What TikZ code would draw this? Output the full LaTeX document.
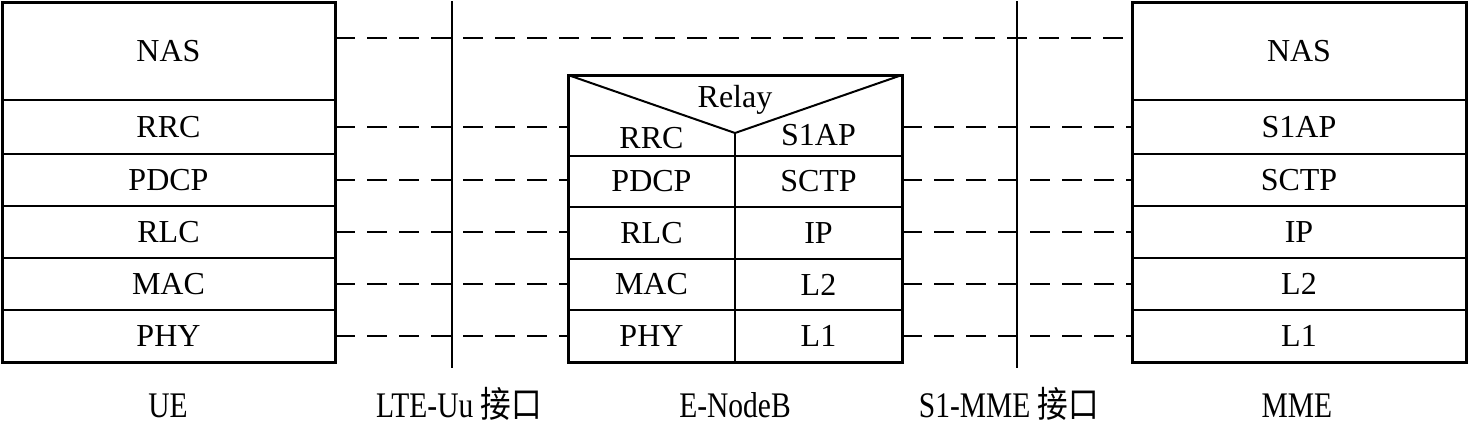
\documentclass[tikz,border=0pt]{standalone}
\usepackage{fontspec}
\setmainfont{Liberation Serif}
\newfontfamily\labfont[FakeStretch=0.82]{Liberation Serif}
\newfontfamily\cjkfont[FakeStretch=0.85]{Noto Sans CJK SC}
\usetikzlibrary{calc}
\begin{document}
\begin{tikzpicture}[x=0.5pt,y=-0.5pt,
  cell/.style={draw, line width=1pt, inner sep=0pt, outer sep=0pt, font=\fontsize{16}{18}\selectfont},
  blankcell/.style={inner sep=0pt, outer sep=0pt},
  celltext/.style={inner sep=0pt, font=\fontsize{16}{18}\selectfont},
  frame/.style={draw, line width=1.5pt},
  thinline/.style={line width=1pt},
  layerlink/.style={line width=1pt, dash pattern=on 10pt off 6pt},
  iface/.style={line width=1pt},
  caption/.style={inner sep=0pt, anchor=base, text height=0.75em, text depth=0pt,
                  font=\labfont\fontsize{18}{20}\selectfont}]
\useasboundingbox (0,0) rectangle (1468,423);

% ---------- UE ----------
\node[cell, minimum width=166.5pt, minimum height=49pt] (ue-nas)  at (168.5,51)  {NAS};
\node[cell, minimum width=166.5pt, minimum height=27pt] (ue-rrc)  at (168.5,127) {RRC};
\node[cell, minimum width=166.5pt, minimum height=26pt] (ue-pdcp) at (168.5,180) {PDCP};
\node[cell, minimum width=166.5pt, minimum height=26pt] (ue-rlc)  at (168.5,232) {RLC};
\node[cell, minimum width=166.5pt, minimum height=26pt] (ue-mac)  at (168.5,284) {MAC};
\node[cell, minimum width=166.5pt, minimum height=26pt] (ue-phy)  at (168.5,336) {PHY};
\draw[frame] (ue-nas.north west) rectangle (ue-phy.south east);

% ---------- E-NodeB ----------
\node[blankcell, minimum width=83.5pt, minimum height=40.5pt] (enb-rrc)  at (651.5,115.5) {};
\node[blankcell, minimum width=83.5pt, minimum height=40.5pt] (enb-s1ap) at (818.5,115.5) {};
\node[celltext] (enb-rrc-t)  at (651.5,138) {RRC};
\node[celltext] (enb-s1ap-t) at (818.5,135) {S1AP};
\node[celltext] (relay) at (735,100) {Relay};
\coordinate (vtip) at (735,133);

\node[cell, minimum width=83.5pt, minimum height=25.5pt] (enb-pdcp) at (651.5,181.5) {PDCP};
\node[cell, minimum width=83.5pt, minimum height=26pt]   (enb-rlc)  at (651.5,233)   {RLC};
\node[cell, minimum width=83.5pt, minimum height=25.5pt] (enb-mac)  at (651.5,284.5) {MAC};
\node[cell, minimum width=83.5pt, minimum height=26pt]   (enb-phy)  at (651.5,336)   {PHY};
\node[cell, minimum width=83.5pt, minimum height=25.5pt] (enb-sctp) at (818.5,181.5) {SCTP};
\node[cell, minimum width=83.5pt, minimum height=26pt]   (enb-ip)   at (818.5,233)   {IP};
\node[cell, minimum width=83.5pt, minimum height=25.5pt] (enb-l2)   at (818.5,284.5) {L2};
\node[cell, minimum width=83.5pt, minimum height=26pt]   (enb-l1)   at (818.5,336)   {L1};
\draw[thinline] (enb-rrc.north west) -- (vtip) -- (enb-s1ap.north east);
\draw[thinline] (vtip) -- (vtip |- enb-pdcp.north);
\draw[frame] (enb-rrc.north west) rectangle (enb-l1.south east);

% ---------- MME ----------
\node[cell, minimum width=167pt, minimum height=49pt] (mme-nas)  at (1299,51)  {NAS};
\node[cell, minimum width=167pt, minimum height=27pt] (mme-s1ap) at (1299,127) {S1AP};
\node[cell, minimum width=167pt, minimum height=26pt] (mme-sctp) at (1299,180) {SCTP};
\node[cell, minimum width=167pt, minimum height=26pt] (mme-ip)   at (1299,232) {IP};
\node[cell, minimum width=167pt, minimum height=26pt] (mme-l2)   at (1299,284) {L2};
\node[cell, minimum width=167pt, minimum height=26pt] (mme-l1)   at (1299,336) {L1};
\draw[frame] (mme-nas.north west) rectangle (mme-l1.south east);

% ---------- interfaces ----------
\coordinate (uu-top) at (452,1);
\coordinate (uu-bot) at (452,368);
\coordinate (s1-top) at (1017,1);
\coordinate (s1-bot) at (1017,368);
\draw[iface] (uu-top) -- (uu-bot);
\draw[iface] (s1-top) -- (s1-bot);

% ---------- peer links ----------
\draw[layerlink] ([yshift=6.5pt]ue-nas.east) -- ([yshift=6.5pt]mme-nas.west);
\draw[layerlink] (ue-rrc.east)  -- (ue-rrc.east -| enb-rrc.west);
\draw[layerlink] (ue-pdcp.east) -- (ue-pdcp.east -| enb-pdcp.west);
\draw[layerlink] (ue-rlc.east)  -- (ue-rlc.east -| enb-rlc.west);
\draw[layerlink] (ue-mac.east)  -- (ue-mac.east -| enb-mac.west);
\draw[layerlink] (ue-phy.east)  -- (ue-phy.east -| enb-phy.west);
\draw[layerlink] (mme-s1ap.west -| enb-s1ap.east) -- (mme-s1ap.west);
\draw[layerlink] (mme-sctp.west -| enb-sctp.east) -- (mme-sctp.west);
\draw[layerlink] (mme-ip.west -| enb-ip.east)     -- (mme-ip.west);
\draw[layerlink] (mme-l2.west -| enb-l2.east)     -- (mme-l2.west);
\draw[layerlink] (mme-l1.west -| enb-l1.east)     -- (mme-l1.west);

% ---------- captions ----------
\node[caption] (ue-cap)  at (168,417)  {UE};
\node[caption] (uu-cap)  at (459,417)  {LTE-Uu {\cjkfont 接口}};
\node[caption] (enb-cap) at (735,417)  {E-NodeB};
\node[caption] (s1-cap)  at (1009,417) {S1-MME {\cjkfont 接口}};
\node[caption] (mme-cap) at (1297,417) {MME};
\end{tikzpicture}
\end{document}
